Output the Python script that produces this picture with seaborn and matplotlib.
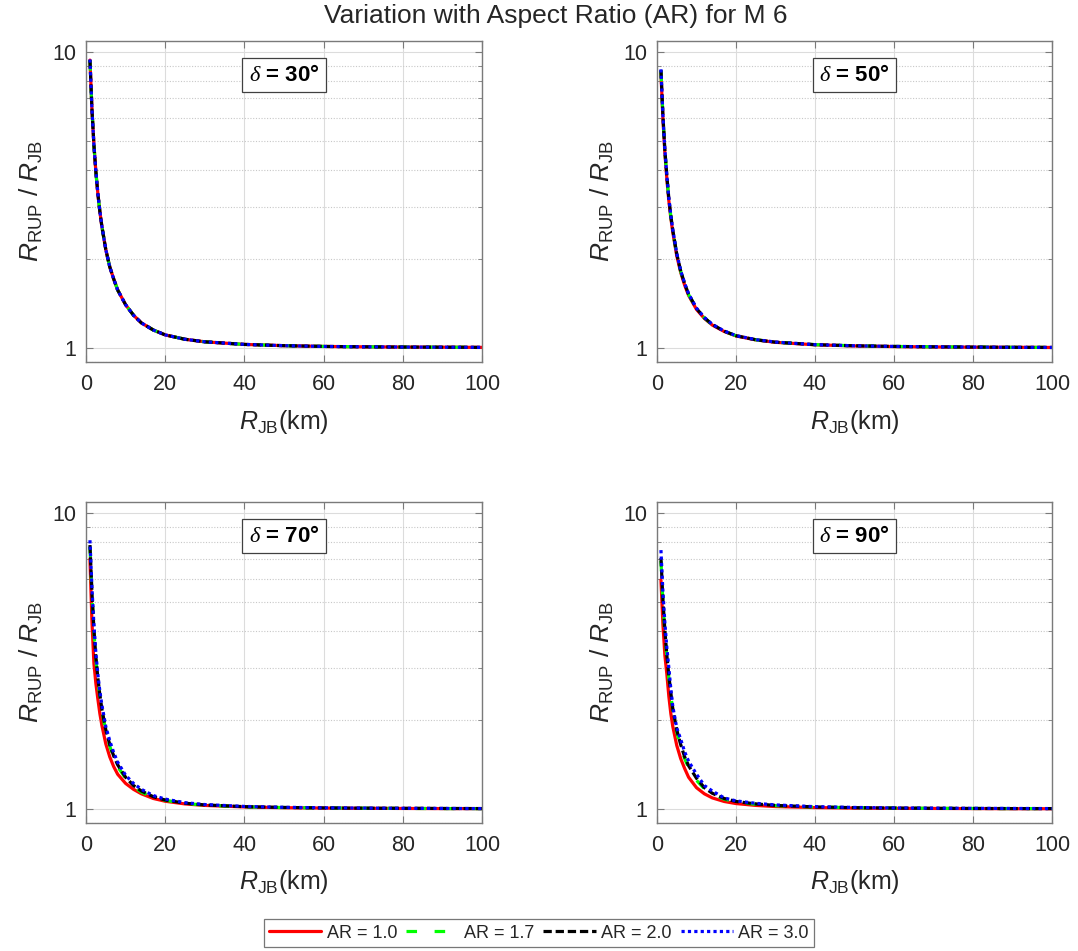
import numpy as np
import pandas as pd
import matplotlib
matplotlib.use("Agg")
import matplotlib.pyplot as plt
import seaborn as sns
from matplotlib.ticker import LogLocator, NullFormatter, FixedLocator, FixedFormatter

# ---------------- data ----------------
r_jb = [1, 1.5, 2, 2.5, 3, 3.5, 4, 5, 6, 7, 8, 10, 12, 14, 17, 20, 25, 30, 40, 50, 60, 70, 80, 90, 100]

ar_labels = ["AR = 1.0", "AR = 1.7", "AR = 2.0", "AR = 3.0"]
dip_labels = ["30", "50", "70", "90"]

# dip 30
d30_ar10 = [9.4, 6.41, 4.85, 3.93, 3.32, 2.89, 2.58, 2.15, 1.88, 1.71, 1.57, 1.40, 1.29, 1.215, 1.15, 1.107, 1.07, 1.049, 1.028, 1.018, 1.012, 1.009, 1.007, 1.006, 1.0045]
d30_ar17 = [9.4, 6.41, 4.85, 3.93, 3.32, 2.89, 2.58, 2.15, 1.88, 1.71, 1.57, 1.40, 1.29, 1.215, 1.15, 1.107, 1.07, 1.049, 1.028, 1.018, 1.012, 1.009, 1.007, 1.006, 1.0045]
d30_ar20 = [9.4, 6.41, 4.85, 3.93, 3.32, 2.89, 2.58, 2.15, 1.88, 1.71, 1.57, 1.40, 1.29, 1.215, 1.15, 1.107, 1.07, 1.049, 1.028, 1.018, 1.012, 1.009, 1.007, 1.006, 1.0045]
d30_ar30 = [9.45, 6.43, 4.86, 3.94, 3.33, 2.9, 2.59, 2.15, 1.88, 1.71, 1.57, 1.40, 1.29, 1.215, 1.15, 1.107, 1.07, 1.049, 1.028, 1.018, 1.012, 1.009, 1.007, 1.006, 1.0045]

# dip 50
d50_ar10 = [8.5, 5.95, 4.55, 3.72, 3.14, 2.75, 2.46, 2.05, 1.80, 1.63, 1.505, 1.35, 1.258, 1.195, 1.137, 1.098, 1.065, 1.045, 1.025, 1.016, 1.011, 1.008, 1.006, 1.005, 1.004]
d50_ar17 = [8.65, 6.08, 4.63, 3.79, 3.19, 2.79, 2.49, 2.07, 1.815, 1.645, 1.515, 1.357, 1.263, 1.198, 1.139, 1.1, 1.066, 1.046, 1.026, 1.017, 1.012, 1.009, 1.007, 1.005, 1.004]
d50_ar20 = [8.7, 6.1, 4.65, 3.8, 3.2, 2.8, 2.5, 2.08, 1.82, 1.65, 1.52, 1.36, 1.265, 1.2, 1.14, 1.1, 1.066, 1.046, 1.026, 1.017, 1.012, 1.009, 1.007, 1.005, 1.004]
d50_ar30 = [8.75, 6.12, 4.66, 3.81, 3.21, 2.81, 2.51, 2.09, 1.825, 1.655, 1.525, 1.363, 1.267, 1.202, 1.141, 1.101, 1.067, 1.047, 1.026, 1.017, 1.012, 1.009, 1.007, 1.005, 1.004]

# dip 70
d70_ar10 = [7.0, 4.3, 3.1, 2.65, 2.35, 2.1, 1.92, 1.66, 1.5, 1.39, 1.31, 1.22, 1.165, 1.125, 1.085, 1.062, 1.04, 1.028, 1.016, 1.01, 1.007, 1.005, 1.004, 1.003, 1.003]
d70_ar17 = [7.7, 5.3, 3.98, 3.2, 2.72, 2.4, 2.15, 1.83, 1.63, 1.49, 1.39, 1.27, 1.19, 1.14, 1.095, 1.07, 1.044, 1.03, 1.017, 1.011, 1.008, 1.006, 1.004, 1.003, 1.003]
d70_ar20 = [7.8, 5.4, 4.05, 3.25, 2.77, 2.43, 2.18, 1.85, 1.65, 1.51, 1.41, 1.28, 1.2, 1.15, 1.1, 1.072, 1.046, 1.032, 1.018, 1.012, 1.008, 1.006, 1.005, 1.004, 1.003]
d70_ar30 = [8.1, 5.6, 4.2, 3.35, 2.85, 2.5, 2.25, 1.9, 1.7, 1.55, 1.44, 1.3, 1.22, 1.165, 1.11, 1.08, 1.05, 1.035, 1.02, 1.013, 1.009, 1.007, 1.005, 1.004, 1.003]

# dip 90
d90_ar10 = [5.95, 4.2, 3.3, 2.85, 2.4, 2.1, 1.9, 1.64, 1.48, 1.37, 1.28, 1.18, 1.125, 1.09, 1.06, 1.043, 1.028, 1.019, 1.011, 1.007, 1.005, 1.004, 1.003, 1.002, 1.002]
d90_ar17 = [6.9, 5.0, 3.92, 3.24, 2.77, 2.43, 2.15, 1.82, 1.62, 1.48, 1.38, 1.25, 1.17, 1.12, 1.08, 1.055, 1.037, 1.026, 1.015, 1.01, 1.007, 1.005, 1.004, 1.003, 1.003]
d90_ar20 = [7.05, 5.1, 4.0, 3.3, 2.82, 2.47, 2.18, 1.85, 1.65, 1.5, 1.4, 1.27, 1.18, 1.13, 1.085, 1.06, 1.04, 1.028, 1.016, 1.01, 1.007, 1.005, 1.004, 1.003, 1.003]
d90_ar30 = [7.5, 5.4, 4.25, 3.5, 3.0, 2.55, 2.22, 1.88, 1.72, 1.56, 1.45, 1.31, 1.2, 1.15, 1.09, 1.065, 1.045, 1.032, 1.018, 1.012, 1.008, 1.006, 1.005, 1.004, 1.003]

panels = {
    "30": [d30_ar10, d30_ar17, d30_ar20, d30_ar30],
    "50": [d50_ar10, d50_ar17, d50_ar20, d50_ar30],
    "70": [d70_ar10, d70_ar17, d70_ar20, d70_ar30],
    "90": [d90_ar10, d90_ar17, d90_ar20, d90_ar30],
}

# ---------------- style ----------------
sns.set_style("ticks")
plt.rcParams["font.family"] = ["Liberation Sans", "DejaVu Sans"]
plt.rcParams["mathtext.fontset"] = "custom"
plt.rcParams["mathtext.rm"] = "Liberation Sans"
plt.rcParams["mathtext.it"] = "Liberation Sans:italic"
plt.rcParams["mathtext.bf"] = "Liberation Sans:bold"
plt.rcParams["mathtext.cal"] = "Liberation Serif:italic"

palette = {"AR = 1.0": "#ff0000", "AR = 1.7": "#00ff00", "AR = 2.0": "#000000", "AR = 3.0": "#0000ff"}
dashes = {"AR = 1.0": "", "AR = 1.7": (3.3, 5.5), "AR = 2.0": (2.6, 1.2), "AR = 3.0": (1, 1)}

W, H = 1078, 951
fig = plt.figure(figsize=(W / 100, H / 100), dpi=100)

boxes = [
    (86, 40.5, 482, 361.5),
    (657, 40.5, 1052, 361.5),
    (86, 501.5, 482, 822.5),
    (657, 501.5, 1052, 822.5),
]

edge = "#7a7a7a"
txtc = "#262626"
handles = labels = None
for i, (dip, (l, t, r, b)) in enumerate(zip(dip_labels, boxes)):
    ax = fig.add_axes([l / W, 1 - b / H, (r - l) / W, (b - t) / H])
    frames = []
    for lab, vals in zip(ar_labels, panels[dip]):
        frames.append(pd.DataFrame({"R_JB": r_jb, "ratio": vals, "AR": lab}))
    df = pd.concat(frames, ignore_index=True)
    sns.lineplot(data=df, x="R_JB", y="ratio", hue="AR", style="AR",
                 hue_order=ar_labels, style_order=ar_labels,
                 palette=palette, dashes=dashes, linewidth=2.3,
                 legend=(i == 0), ax=ax)
    if i == 0:
        handles, labels = ax.get_legend_handles_labels()
        ax.get_legend().remove()
    ax.set_yscale("log")
    ax.set_xlim(0, 100)
    ax.set_ylim(0.9, 10.95)
    ax.set_xticks([0, 20, 40, 60, 80, 100])
    ax.yaxis.set_major_locator(FixedLocator([1, 10]))
    ax.yaxis.set_major_formatter(FixedFormatter(["1", "10"]))
    ax.yaxis.set_minor_locator(LogLocator(base=10, subs=np.arange(2, 10)))
    ax.yaxis.set_minor_formatter(NullFormatter())
    ax.grid(True, which="major", color="#dcdcdc", lw=0.8, ls="-")
    ax.grid(True, which="minor", axis="y", color="#c8c8c8", lw=0.8, ls=(0, (1, 1.5)))
    ax.set_axisbelow(True)
    ax.tick_params(which="both", direction="in", top=True, right=True,
                   color=edge, labelcolor=txtc, labelsize=15.5)
    ax.tick_params(which="major", length=5)
    ax.tick_params(which="minor", length=3)
    ax.tick_params(axis="x", pad=9)
    ax.tick_params(axis="y", pad=7)
    for s in ax.spines.values():
        s.set_color(edge)
        s.set_linewidth(1.0)
    ax.set_xlabel(r"$R_{\mathrm{JB}}$(km)", fontsize=18, color=txtc, labelpad=9)
    ax.set_ylabel(r"$R_{\mathrm{RUP}}$ / $R_{\mathrm{JB}}$", fontsize=19, color=txtc, labelpad=5)
    ax.text(0.5, 0.892, r"$\mathcal{\delta}$ = " + dip + "\u00b0", transform=ax.transAxes,
            ha="center", va="center", fontsize=16, fontweight="bold", color="black",
            bbox=dict(boxstyle="square,pad=0.3", fc="white", ec="#404040", lw=0.9))

fig.text(556 / W, 1 - 16 / H, "Variation with Aspect Ratio (AR) for M 6",
         ha="center", va="center", fontsize=19, color=txtc)

leg = fig.legend(handles, labels, loc="center", bbox_to_anchor=(0.5, 1 - 933 / H),
                 ncol=4, fontsize=13, frameon=True, fancybox=False,
                 handlelength=2.9, handletextpad=0.3, columnspacing=0.5,
                 borderpad=0.3, borderaxespad=0)
leg.get_frame().set_edgecolor("#555555")
leg.get_frame().set_linewidth(0.9)

fig.savefig("out.png", dpi=100)
